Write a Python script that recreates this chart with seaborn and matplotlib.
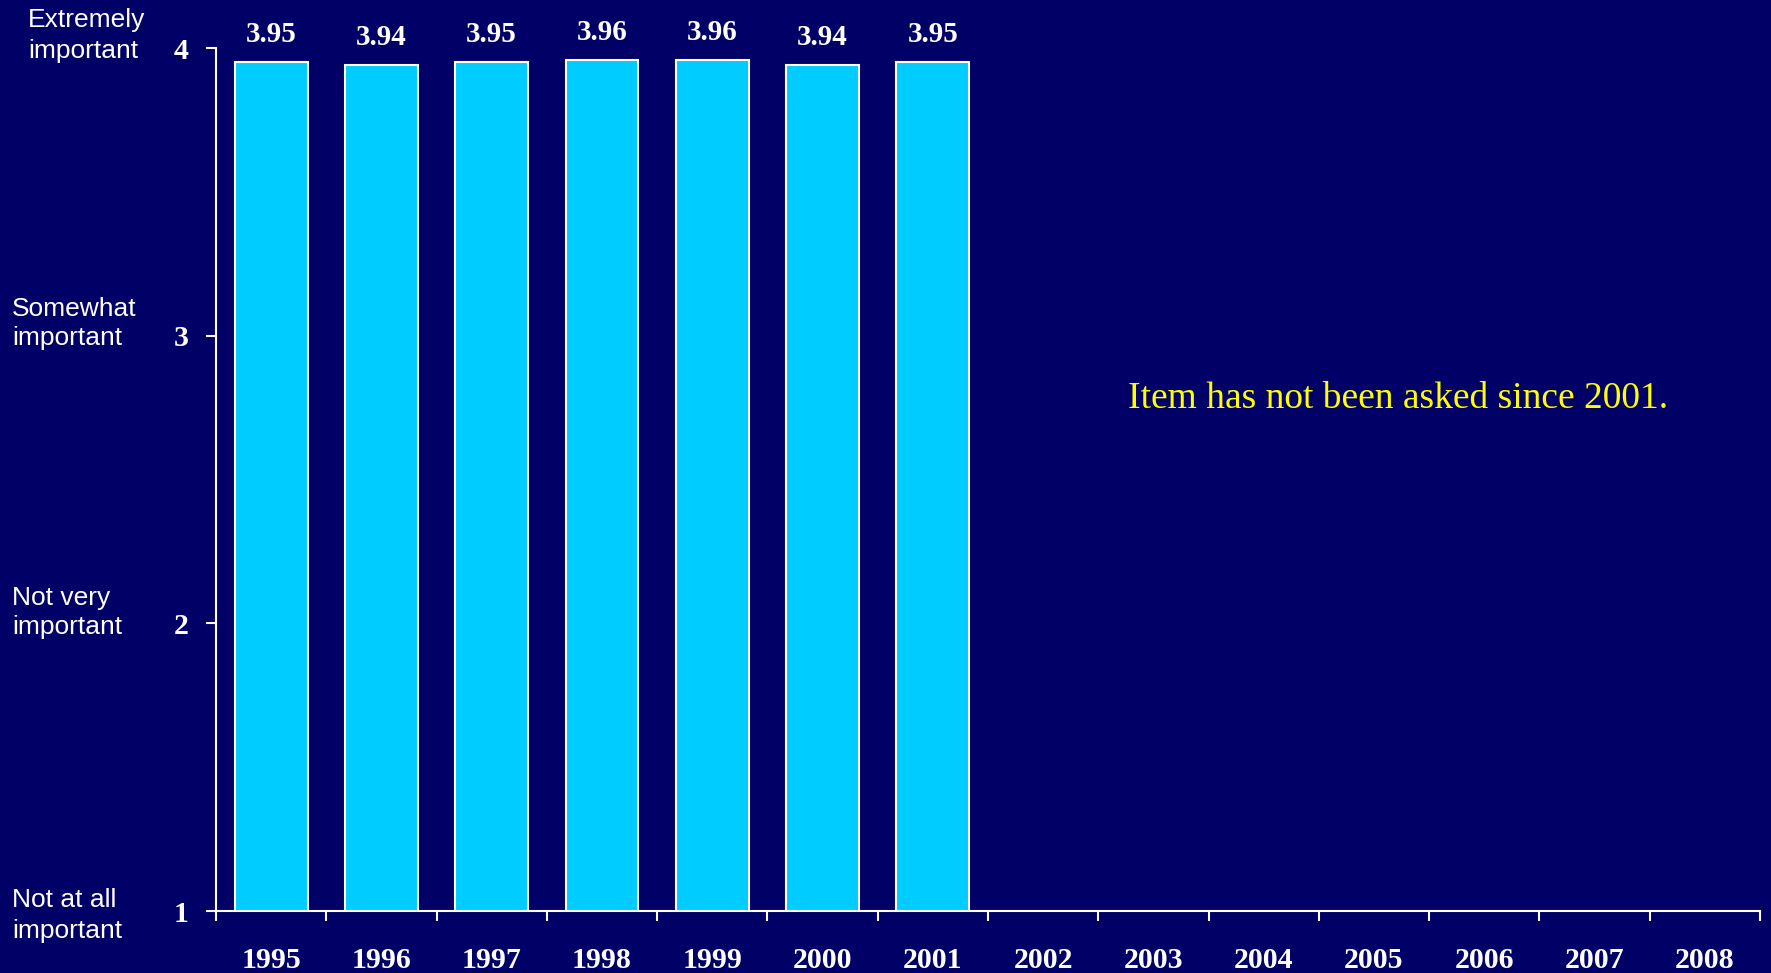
import matplotlib
matplotlib.use("Agg")
import matplotlib.pyplot as plt
import seaborn as sns
import pandas as pd
import numpy as np
from matplotlib.ticker import FixedLocator

years = ["1995", "1996", "1997", "1998", "1999", "2000", "2001",
         "2002", "2003", "2004", "2005", "2006", "2007", "2008"]
values = [3.95, 3.94, 3.95, 3.96, 3.96, 3.94, 3.95,
          np.nan, np.nan, np.nan, np.nan, np.nan, np.nan, np.nan]
y_ticks = [1, 2, 3, 4]
scale_labels = [("Not at all", "important"), ("Not very", "important"),
                ("Somewhat", "important"), ("Extremely", "important")]
note = "Item has not been asked since 2001."

BG = "#000066"
BAR = "#00CCFF"
W, H = 1771, 973

sns.set_theme(style="white")
plt.rcParams["font.family"] = ["Liberation Serif", "DejaVu Serif"]

fig = plt.figure(figsize=(W / 100, H / 100), dpi=100, facecolor=BG)
ax = fig.add_axes([216 / W, 1 - 911 / H, (1760 - 216) / W, (911 - 48) / H])
ax.set_facecolor(BG)

df = pd.DataFrame({"year": years, "value": values})
sns.barplot(data=df, x="year", y="value", order=years, color=BAR,
            saturation=1, width=0.66, edgecolor="white", linewidth=1.5, ax=ax)

for cont in ax.containers:
    ax.bar_label(cont, fmt="%.2f", padding=10, color="white",
                 fontsize=21, fontweight="bold", family="Liberation Serif")

ax.set_ylim(1, 4)
ax.set_xlim(-0.5, len(years) - 0.5)
ax.set_xlabel("")
ax.set_ylabel("")
for s in ["top", "right"]:
    ax.spines[s].set_visible(False)
for s in ["left", "bottom"]:
    ax.spines[s].set_color("white")
    ax.spines[s].set_linewidth(1.5)

ax.set_yticks(y_ticks)
ax.set_yticklabels([str(t) for t in y_ticks])
ax.tick_params(axis="y", colors="white", length=7, width=1.5, direction="out",
               pad=13, labelsize=21.5, left=True)
for lab in ax.get_yticklabels():
    lab.set_fontweight("bold")

ax.set_xticks(range(len(years)))
ax.set_xticklabels(years)
ax.tick_params(axis="x", which="major", length=0, pad=26, colors="white", labelsize=21.5)
for lab in ax.get_xticklabels():
    lab.set_fontweight("bold")
ax.xaxis.set_minor_locator(FixedLocator(np.arange(-0.5, len(years), 1.0)))
ax.tick_params(axis="x", which="minor", length=7.5, width=1.5, color="white",
               direction="out", bottom=True)

ax.text(10.22, 2.748, note, color="#FFFF00", fontsize=27, ha="center",
        va="baseline", family="Liberation Serif")

# scale descriptions on the left (one text per line)
positions = [(12, 907, 938), (12, 605, 634), (12, 316, 345), (28, 27, 58)]
for (l1, l2), (px, b1, b2) in zip(scale_labels, positions):
    fig.text(px / W, 1 - b1 / H, l1, color="white", fontsize=19,
             family="Liberation Sans", ha="left", va="baseline")
    fig.text(px / W, 1 - b2 / H, l2, color="white", fontsize=19,
             family="Liberation Sans", ha="left", va="baseline")

fig.savefig("out.png", dpi=100, facecolor=BG)
